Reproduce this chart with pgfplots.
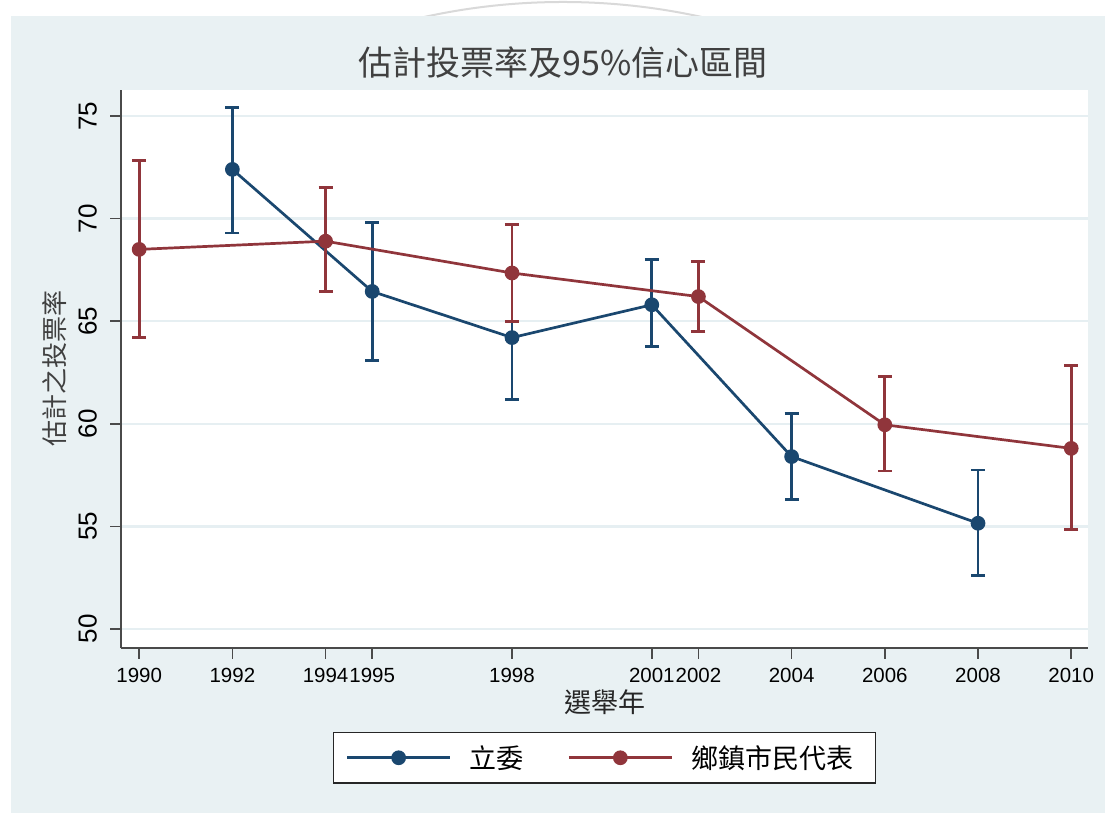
\documentclass[border=0pt]{standalone}
\usepackage{fontspec}
\usepackage{pgfplots}
\usepackage{pgfplotstable}
\pgfplotsset{compat=1.18}
\setmainfont{Liberation Sans}
\newfontfamily\cjk{Noto Sans CJK TC}

\definecolor{bgpanel}{HTML}{E9F1F3}
\definecolor{gridc}{HTML}{E6EFF2}
\definecolor{navy}{HTML}{1A476F}
\definecolor{maroon}{HTML}{90353B}
\definecolor{axisc}{HTML}{4A4A4A}

% estimated turnout with 95% CI (lo, hi)
\pgfplotstableread{
x    y     lo    hi
1992 72.4  69.3  75.4
1995 66.45 63.1  69.8
1998 64.2  61.2  65.0
2001 65.8  63.75 68.0
2004 58.4  56.3  60.5
2008 55.15 52.6  57.75
}\legis
\pgfplotstableread{
x    y     lo    hi
1990 68.5  64.2  72.85
1994 68.9  66.45 71.5
1998 67.35 65.0  69.7
2002 66.2  64.5  67.9
2006 59.95 57.7  62.3
2010 58.8  54.85 62.85
}\township

\begin{document}
\begin{tikzpicture}[x=1pt,y=1pt]
\useasboundingbox (0,0) rectangle (1105,813);
\fill[white] (0,0) rectangle (1105,813);
\begin{scope}
  \clip (0,797) rectangle (1105,813);
  \draw[black!15, line width=2pt] (563,168) circle (643);
\end{scope}
\fill[bgpanel] (11,0) rectangle (1105,797);
\begin{axis}[
  at={(121pt,165pt)}, anchor=south west,
  scale only axis, width=967pt, height=558pt,
  xmin=1989.61, xmax=2010.36, ymin=49.07, ymax=76.27,
  axis background/.style={fill=white},
  axis lines*=left,
  axis line style={axisc, line width=1.8pt},
  tick style={axisc, line width=1.5pt},
  tick align=outside, major tick length=11pt,
  xtick={1990,1992,1994,1995,1998,2001,2002,2004,2006,2008,2010},
  xticklabels={1990,1992,1994,1995,1998,2001,2002,2004,2006,2008,2010},
  xticklabel style={font=\fontsize{20.5}{24}\selectfont, text=black, inner sep=0pt, anchor=north, yshift=-9pt},
  ytick={50,55,60,65,70,75},
  yticklabels={50,55,60,65,70,75},
  yticklabel style={font=\fontsize{26}{30}\selectfont, rotate=90, anchor=south, inner sep=0pt, yshift=13pt},
  ymajorgrids,
  major grid style={gridc, line width=2.5pt},
  title={估計投票率及95\%信心區間},
  title style={font=\cjk\fontsize{34}{40}\selectfont, text=black!75, at={(0.457,1.039)}, anchor=center, inner sep=0pt},
  xlabel={選舉年},
  xlabel style={font=\cjk\fontsize{27}{32}\selectfont, text=black!85, at={(0.5,-0.0968)}, anchor=center, inner sep=0pt},
  ylabel={估計之投票率},
  ylabel style={font=\cjk\fontsize{26}{30}\selectfont, text=black!75, at={(-0.0683,0.5)}, anchor=center, inner sep=0pt},
  legend style={at={(0.5,-0.1505)}, anchor=north, legend columns=2,
    draw=black!85, line width=1.2pt, fill=white,
    inner xsep=12pt, inner ysep=13pt,
    font=\cjk\fontsize{27}{32}\selectfont,
    nodes={inner sep=0pt, anchor=west},
    /tikz/every odd column/.append style={column sep=18pt},
    /tikz/every even column/.append style={column sep=44pt}},
  legend image code/.code={%
    \draw[mark repeat=2, mark phase=2] plot coordinates {(0pt,0pt) (51.5pt,0pt) (103pt,0pt)};},
  every axis plot/.append style={line width=2.7pt, mark=*, mark size=6pt},
  error bars/y dir=both,
  error bars/y explicit,
  error bars/error mark options={line width=2.7pt, mark size=7pt, rotate=90},
  error bars/error bar style={line width=2.7pt},
]
\addplot[navy, mark options={fill=navy, draw=navy}]
  table[x=x, y=y, y error plus expr=\thisrow{hi}-\thisrow{y}, y error minus expr=\thisrow{y}-\thisrow{lo}] {\legis};
\addlegendentry{立委}
\addplot[maroon, mark options={fill=maroon, draw=maroon}]
  table[x=x, y=y, y error plus expr=\thisrow{hi}-\thisrow{y}, y error minus expr=\thisrow{y}-\thisrow{lo}] {\township};
\addlegendentry{\makebox[172pt][l]{鄉鎮市民代表}}
\end{axis}
\end{tikzpicture}
\end{document}
